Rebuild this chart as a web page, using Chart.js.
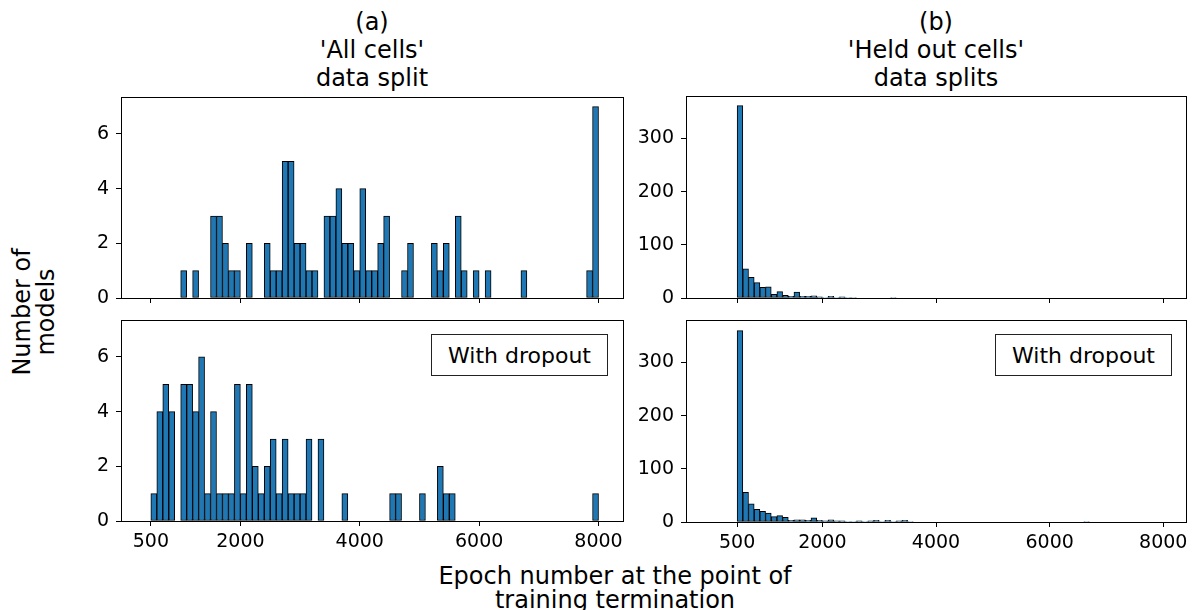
<!DOCTYPE html>
<html>
<head>
<meta charset="utf-8">
<script src="https://cdn.jsdelivr.net/npm/chart.js@4.4.0/dist/chart.umd.min.js"></script>
<style>
  body { margin: 0; width: 1193px; height: 610px; overflow: hidden; background: #fff; position: relative;
         font-family: "DejaVu Sans", sans-serif; color: #000; }
  canvas { position: absolute; }
  .txt { position: absolute; text-align: center; white-space: nowrap; font-size: 24px; }
  .title { line-height: 28px; top: 8px; transform: translateX(-50%); }
  .leg { position: absolute; box-sizing: border-box; border: 1px solid #222; background: #fff;
         font-size: 22px; display: flex; align-items: center; justify-content: center; }
</style>
</head>
<body>
<div class="txt title" style="left:372px">(a)<br>'All cells'<br>data split</div>
<div class="txt title" style="left:936px">(b)<br>'Held out cells'<br>data splits</div>
<div class="txt" style="left:34px; top:312px; line-height:24px; transform:translate(-50%,-50%) rotate(-90deg)">Number of<br>models</div>
<div class="txt" style="left:615px; top:564px; line-height:24px; transform:translateX(-50%)">Epoch number at the point of<br>training termination</div>

<canvas id="allTop"></canvas>
<canvas id="allBottom"></canvas>
<canvas id="heldTop"></canvas>
<canvas id="heldBottom"></canvas>

<div class="leg" style="left:431px; top:334px; width:177px; height:42px">With dropout</div>
<div class="leg" style="left:995px; top:334px; width:177px; height:42px">With dropout</div>

<script>
// bin start (epochs) and count of models, bins are 100 epochs wide
const binWidth = 100;

const allCellsBins = [1000, 1200, 1500, 1600, 1700, 1800, 1900, 2100, 2400, 2500, 2600, 2700, 2800, 2900,
  3000, 3100, 3200, 3400, 3500, 3600, 3700, 3800, 3900, 4000, 4100, 4200, 4300, 4400, 4700, 4800,
  5200, 5300, 5400, 5600, 5700, 5900, 6100, 6700, 7800, 7900];
const allCellsCounts = [1, 1, 3, 3, 2, 1, 1, 2, 2, 1, 1, 5, 5, 2,
  2, 1, 1, 3, 3, 4, 2, 2, 1, 4, 1, 1, 2, 3, 1, 2,
  2, 1, 2, 3, 1, 1, 1, 1, 1, 7];

const allDropBins = [500, 600, 700, 800, 1000, 1100, 1200, 1300, 1400, 1500, 1600, 1700, 1800, 1900,
  2000, 2100, 2200, 2300, 2400, 2500, 2600, 2700, 2800, 2900, 3000, 3100, 3300, 3700,
  4500, 4600, 5000, 5300, 5400, 5500, 7900];
const allDropCounts = [1, 4, 5, 4, 5, 5, 4, 6, 1, 4, 1, 1, 1, 5,
  1, 5, 2, 1, 2, 3, 1, 3, 1, 1, 1, 3, 3, 1,
  1, 1, 1, 2, 1, 1, 1];

const heldBins = [500, 600, 700, 800, 900, 1000, 1100, 1200, 1300, 1400, 1500, 1600, 1700, 1800,
  1900, 2000, 2100, 2200, 2300, 2400, 2500, 3200];
const heldCounts = [362, 55, 39, 29, 20, 21, 7, 12, 5, 3, 11, 3, 3, 4,
  2, 1, 3, 1, 2, 1, 1, 1];

const heldDropBins = [500, 600, 700, 800, 900, 1000, 1100, 1200, 1300, 1400, 1500, 1600, 1700, 1800,
  1900, 2000, 2100, 2200, 2300, 2400, 2500, 2600, 2700, 2800, 2900, 3000, 3100, 3200, 3300, 3400,
  3500, 6600];
const heldDropCounts = [360, 56, 34, 24, 20, 17, 10, 12, 9, 3, 4, 4, 3, 8,
  3, 2, 4, 2, 2, 1, 1, 2, 1, 2, 3, 1, 3, 1, 2, 3,
  1, 1];

const xTicks = [500, 2000, 4000, 6000, 8000];
const yTicksAll = [0, 2, 4, 6];
const yTicksHeld = [0, 100, 200, 300];

Chart.defaults.font.family = "'DejaVu Sans', sans-serif";
Chart.defaults.font.size = 19;
Chart.defaults.color = '#000';

// matplotlib style box around the axes
const framePlugin = {
  id: 'frame',
  afterDraw(chart) {
    const { ctx, chartArea: a } = chart;
    ctx.save();
    ctx.strokeStyle = '#000';
    ctx.lineWidth = 1;
    ctx.strokeRect(Math.round(a.left) + 0.5, Math.round(a.top) + 0.5,
      Math.round(a.right - a.left), Math.round(a.bottom - a.top));
    ctx.restore();
  }
};

function makePanel(id, p) {
  const canvas = document.getElementById(id);
  const padTop = 4, padRight = 6;
  canvas.width = p.yW + p.areaW + padRight;
  canvas.height = padTop + p.areaH + p.xH;
  canvas.style.left = (p.left - p.yW) + 'px';
  canvas.style.top = (p.top - padTop) + 'px';

  const tickGrid = { display: true, offset: false, drawOnChartArea: false, drawTicks: true,
    tickLength: 5, color: '#000', lineWidth: 1 };

  return new Chart(canvas, {
    type: 'bar',
    data: {
      datasets: [{
        data: p.bins.map((b, i) => ({ x: b + binWidth / 2, y: p.counts[i] })),
        backgroundColor: '#1f77b4',
        borderColor: '#000',
        borderWidth: 1,
        borderSkipped: false,
        barPercentage: 1,
        categoryPercentage: 1
      }]
    },
    options: {
      responsive: false,
      animation: false,
      layout: { padding: { top: padTop, right: padRight, left: 0, bottom: 0 } },
      plugins: { legend: { display: false }, tooltip: { enabled: false } },
      scales: {
        x: {
          type: 'linear',
          offset: false,
          min: p.xMin, max: p.xMax,
          border: { display: false },
          grid: tickGrid,
          ticks: { display: p.showX, padding: 5, maxRotation: 0, callback: v => String(v) },
          afterBuildTicks: s => { s.ticks = xTicks.map(v => ({ value: v })); },
          afterFit: s => { s.height = p.xH; s.paddingLeft = 0; s.paddingRight = 0; }
        },
        y: {
          min: 0, max: p.yMax,
          border: { display: false },
          grid: tickGrid,
          ticks: { padding: 7, callback: v => String(v) },
          afterBuildTicks: s => { s.ticks = p.yTicks.map(v => ({ value: v })); },
          afterFit: s => { s.width = p.yW; s.paddingTop = 0; s.paddingBottom = 0; }
        }
      }
    },
    plugins: [framePlugin]
  });
}

makePanel('allTop', { bins: allCellsBins, counts: allCellsCounts, left: 121, top: 97, areaW: 502, areaH: 201,
  yW: 45, xH: 12, xMin: 0, xMax: 8410, yMax: 7.35, yTicks: yTicksAll, showX: false });
makePanel('allBottom', { bins: allDropBins, counts: allDropCounts, left: 121, top: 320, areaW: 502, areaH: 201,
  yW: 45, xH: 45, xMin: 0, xMax: 8410, yMax: 7.35, yTicks: yTicksAll, showX: true });
makePanel('heldTop', { bins: heldBins, counts: heldCounts, left: 686, top: 96, areaW: 500, areaH: 202,
  yW: 60, xH: 12, xMin: -400, xMax: 8400, yMax: 380, yTicks: yTicksHeld, showX: false });
makePanel('heldBottom', { bins: heldDropBins, counts: heldDropCounts, left: 686, top: 320, areaW: 500, areaH: 202,
  yW: 60, xH: 45, xMin: -400, xMax: 8400, yMax: 380, yTicks: yTicksHeld, showX: true });
</script>
</body>
</html>
